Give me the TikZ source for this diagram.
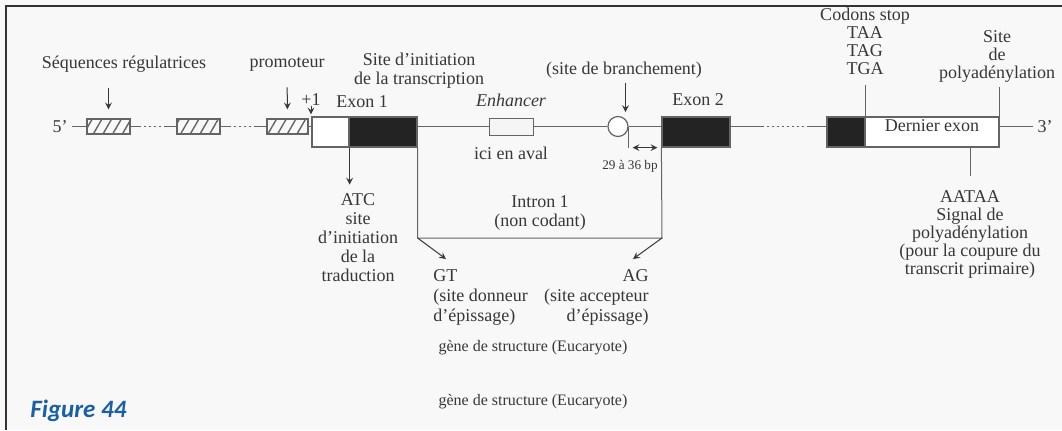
\documentclass[tikz,border=0pt]{standalone}
\usepackage{fontspec}
\setmainfont{Liberation Serif}
\newfontfamily\figfont{Carlito}
\usetikzlibrary{patterns.meta}
\definecolor{inkgray}{RGB}{55,55,55}
\definecolor{linegray}{RGB}{100,100,100}
\definecolor{exondark}{RGB}{35,35,35}
\definecolor{figblue}{RGB}{25,95,165}
\definecolor{paper}{RGB}{248,248,248}
\tikzset{
  lbl/.style={font=\fontsize{9}{9.5}\selectfont, text=inkgray, align=center, inner sep=0pt},
  dna/.style={draw=linegray, line width=0.6pt},
  gapline/.style={dna, dash pattern=on 5pt off 1.5pt on 1pt off 1.5pt on 1pt off 1.5pt on 1pt off 1.5pt on 1pt off 1.5pt on 12pt},
  longgap/.style={dna, dash pattern=on 16.5pt off 1.5pt on 1pt off 1.5pt on 1pt off 1.5pt on 1pt off 1.5pt on 1pt off 1.5pt on 1pt off 1.5pt on 1pt off 1.5pt on 1pt off 1.5pt on 1pt off 1.5pt on 30pt},
  hatchbox/.style={draw=linegray, line width=0.6pt, minimum width=21.5pt, minimum height=7.5pt, inner sep=0pt,
    pattern={Lines[angle=60, distance=4.2pt, line width=0.7pt]}, pattern color=linegray},
  exonbox/.style={draw=linegray, fill=exondark, line width=0.6pt, minimum width=34pt, minimum height=15pt, inner sep=0pt},
  utrbox/.style={draw=linegray, fill=white, line width=0.6pt, minimum height=15pt, inner sep=0pt},
  pointer/.style={draw=inkgray, line width=0.5pt, ->},
}
\begin{document}
\begin{tikzpicture}[x=0.5pt, y=-0.5pt, >=stealth]
  \useasboundingbox (0,0) rectangle (1062,430);
  \fill[paper] (0,0) rectangle (1062,430);
  \draw[line width=1pt, black!80] (6,430) -- (6,6) -- (1062,6);
  \coordinate (axis) at (0,126.5);

  % regulatory sequences and promoter
  \node[lbl, inner sep=2pt] (five) at (60,126.5) {5'};
  \node[hatchbox] (reg1) at (108.5,126.5) {};
  \node[hatchbox] (reg2) at (198.5,126.5) {};
  \node[hatchbox, minimum width=20.5pt] (reg3) at (287.5,126.5) {};
  \draw[dna] (five) -- (reg1);
  \draw[gapline] (reg1) -- (reg2);
  \draw[gapline] (reg2) -- (reg3);

  \node[lbl] (seqreg) at (124,64) {Séquences régulatrices};
  \node[lbl] (promo) at (287,64) {promoteur};
  \draw[pointer, shorten <=7.5pt, shorten >=4.5pt] (seqreg.south -| reg1.north) -- (reg1.north);
  \draw[pointer, shorten <=8pt, shorten >=4.5pt] (promo.south) -- (reg3.north);

  % Exon 1
  \node[utrbox, minimum width=18.5pt] (utr5) at (330.5,132) {};
  \node[exonbox] (exon1) at (383,132) {};
  \draw[dna] (reg3) -- (reg3 -| utr5.west);
  \node[lbl] (plusone) at (311,100) {+1};
  \draw[pointer, shorten >=1pt] (plusone.south) -- (plusone.south |- utr5.north);
  \node[lbl] (exon1lbl) at (362,102) {Exon 1};
  \node[lbl] (transcr) at (419,71) {Site d'initiation\\de la transcription};

  \node[lbl] (atc) at (358,238) {ATC\\site\\d'initiation\\de la\\traduction};
  \draw[pointer, shorten >=4.5pt] (utr5.south east) -- (utr5.south east |- atc.north);

  % Intron 1
  \node[draw=linegray, fill=black!4, line width=0.5pt, minimum width=22pt, minimum height=8.5pt, inner sep=0pt] (enh) at (511,126.5) {};
  \node[lbl, font=\fontsize{9}{9.5}\selectfont\itshape] (enhlbl) at (511,100) {Enhancer};
  \node[lbl] (aval) at (511,153) {ici en aval};
  \node[circle, draw=linegray, fill=white, line width=0.6pt, minimum size=10pt, inner sep=0pt] (branch) at (618,126.5) {};
  \node[lbl] (branchlbl) at (624,70) {(site de branchement)};
  \draw[dna] (exon1.east |- axis) -- (enh);
  \draw[dna] (enh) -- (branch);
  \draw[pointer, shorten <=2pt, shorten >=3.5pt] (branchlbl.south -| branch.north east) -- (branch.north east);

  % Exon 2
  \node[exonbox] (exon2) at (696,132) {};
  \node[lbl] (exon2lbl) at (698,100) {Exon 2};
  \draw[dna] (branch) -- (exon2.west |- axis);
  \draw[draw=linegray, line width=0.4pt] (branch.east) -- (branch.east |- exon2.south);
  \draw[pointer, <->, shorten <=2pt, shorten >=2pt] (branch.east |- exon2.south) -- (exon2.south west);
  \node[lbl, font=\fontsize{6.6}{7}\selectfont] (bp) at (630,166) {29 à 36 bp};

  \coordinate (intronR) at (662,238);
  \coordinate (gttip) at (446,259);
  \coordinate (agtip) at (633,259);
  \draw[dna, line width=0.5pt] (exon1.south east) |- (intronR) -- (exon2.south west);
  \node[lbl] (intron) at (540,213) {Intron 1\\(non codant)};
  \draw[pointer] (exon1.south east |- intronR) -- (gttip);
  \draw[pointer] (intronR) -- (agtip);
  \node[lbl, align=left, anchor=west, font=\fontsize{9}{10}\selectfont] (gt) at (433,297) {GT\\(site donneur\\d'épissage)};
  \node[lbl, align=right, anchor=east, font=\fontsize{9}{10}\selectfont] (ag) at (649,297) {AG\\(site accepteur\\d'épissage)};

  % last exon
  \node[exonbox, minimum width=19pt] (stopexon) at (846,132) {};
  \node[utrbox, minimum width=67pt] (lastexon) at (932,132) {};
  \node[lbl] (lastlbl) at (932,126) {Dernier exon};
  \node[lbl, inner sep=2pt] (three) at (1045,126.5) {3'};
  \draw[longgap] (exon2.east |- axis) -- (stopexon.west |- axis);
  \draw[dna] (lastexon.east |- axis) -- (three);

  \node[lbl, font=\fontsize{9}{9}\selectfont] (codons) at (865,41.5) {Codons stop\\TAA\\TAG\\TGA};
  \node[lbl, font=\fontsize{9}{9.2}\selectfont] (polysite) at (997,56.5) {Site\\de\\polyadénylation};
  \node[lbl, font=\fontsize{9}{9}\selectfont] (aataa) at (970,234) {AATAA\\Signal de\\polyadénylation\\(pour la coupure du\\transcrit primaire)};
  \draw[dna, line width=0.5pt, shorten >=5pt] (stopexon.north east) -- (stopexon.north east |- codons.south);
  \draw[dna, line width=0.5pt, shorten >=2pt] (lastexon.north east) -- (lastexon.north east |- polysite.south);
  \draw[dna, line width=0.5pt, shorten >=7pt] (aataa.north |- lastexon.south) -- (aataa.north);

  % captions
  \node[lbl, font=\fontsize{8}{9}\selectfont] (gene1) at (533,348) {gène de structure (Eucaryote)};
  \node[lbl, font=\fontsize{8}{9}\selectfont] (gene2) at (533,402) {gène de structure (Eucaryote)};
  \node[anchor=base west, inner sep=0pt, text=figblue, font=\fontsize{12.5}{14}\selectfont\figfont\bfseries\itshape] (figlbl) at (30,417) {Figure 44};
\end{tikzpicture}
\end{document}
